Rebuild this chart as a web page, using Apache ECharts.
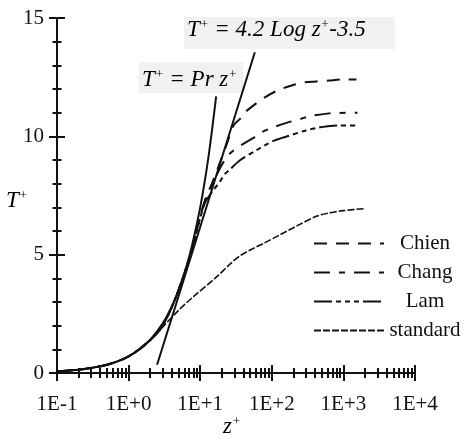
<!DOCTYPE html>
<html>
<head>
<meta charset="utf-8">
<script src="https://cdn.jsdelivr.net/npm/echarts@6/dist/echarts.min.js"></script>
<style>
  html, body { margin: 0; padding: 0; background: #fff; }
  #chart { width: 464px; height: 439px; }
</style>
</head>
<body>
<div id="chart"></div>
<script>
// Axis ticks and labels
const xTickValues = [0.1, 1, 10, 100, 1000, 10000];
const xTickLabels = ['1E-1', '1E+0', '1E+1', '1E+2', '1E+3', '1E+4'];
const yTickValues = [0, 5, 10, 15];
const yTickLabels = ['0', '5', '10', '15'];
const yMinorValues = [1, 2, 3, 4, 6, 7, 8, 9, 11, 12, 13, 14];
const xMinorMultipliers = [2, 3, 4, 5, 6, 7, 8, 9];

// Temperature profiles T+ against z+
const zChien = [0.1, 0.2, 0.5, 1, 2, 3, 4.7, 7.3, 10, 11.7, 15, 20, 24, 29, 36, 42, 58, 80, 121, 190, 288, 420, 630, 977, 1520];
const tChien = [0.07, 0.14, 0.35, 0.7, 1.39, 2.0, 3.3, 5.0, 6.6, 7.3, 8.1, 9.1, 9.75, 10.45, 10.74, 11.0, 11.35, 11.65, 11.94, 12.15, 12.28, 12.32, 12.36, 12.4, 12.4];

const zChang = [0.1, 0.2, 0.5, 1, 2, 3, 4.7, 7.3, 10, 11.7, 15, 18.5, 23.4, 27.5, 34, 45, 58, 73, 99, 160, 262, 350, 630, 880, 1570];
const tChang = [0.07, 0.14, 0.35, 0.7, 1.39, 2.0, 3.3, 5.0, 6.6, 7.3, 8.0, 8.6, 9.13, 9.34, 9.55, 9.78, 9.97, 10.18, 10.35, 10.57, 10.75, 10.86, 10.97, 10.99, 11.0];

const zLam = [0.1, 0.2, 0.5, 1, 2, 3, 4.7, 7.3, 10, 11.7, 15, 18.5, 22, 26, 36, 61, 88, 110, 160, 300, 470, 575, 880, 1650];
const tLam = [0.07, 0.14, 0.35, 0.7, 1.39, 2.0, 3.3, 5.0, 6.55, 7.2, 7.7, 8.05, 8.4, 8.6, 8.99, 9.41, 9.69, 9.83, 9.99, 10.25, 10.38, 10.42, 10.46, 10.46];

const zStandard = [0.1, 0.2, 0.5, 1, 2, 3, 5, 8, 17, 26, 36, 50, 76, 130, 219, 417, 630, 1000, 2040];
const tStandard = [0.07, 0.14, 0.35, 0.7, 1.37, 1.95, 2.65, 3.22, 4.06, 4.6, 4.95, 5.2, 5.47, 5.84, 6.2, 6.62, 6.76, 6.86, 6.95];

// Reference laws: T+ = Pr z+ (Pr = 0.7) and T+ = 4.2 ln z+ - 3.5
const zLinear = [0.1, 0.2, 0.3, 0.5, 0.7, 1, 1.5, 2, 3, 4, 5, 7, 10, 13, 16.7];
const tLinear = [0.07, 0.14, 0.21, 0.35, 0.49, 0.7, 1.05, 1.4, 2.1, 2.8, 3.5, 4.9, 7.0, 9.1, 11.69];
const zLogLaw = [2.5, 10, 58];
const tLogLaw = [0.35, 6.17, 13.55];

const pairs = (zs, ts) => zs.map((z, i) => [z, ts[i]]);

const xMinorValues = [];
[0.1, 1, 10, 100, 1000].forEach(d => xMinorMultipliers.forEach(m => xMinorValues.push(+(d * m).toPrecision(3))));

const SERIF = '"Liberation Serif", "DejaVu Serif", serif';
const INK = '#111';

const chart = echarts.init(document.getElementById('chart'), null, { renderer: 'canvas' });

const baseX = { type: 'log', logBase: 10, min: 0.1, max: 10000, gridIndex: 0, position: 'bottom' };
const baseY = { type: 'value', min: 0, max: 15, interval: 5, gridIndex: 0, position: 'left' };
const hidden = { axisLine: { show: false }, axisLabel: { show: false }, splitLine: { show: false } };
const tickLine = { color: INK, width: 2 };

// Ticks cross the axis line: one axis draws the outer half, another the inner half
const tickAxis = (base, values, len, inside) => Object.assign({}, base, hidden, {
  axisTick: { show: true, inside: inside, length: len, customValues: values, lineStyle: tickLine }
});

const richEq = {
  i: { fontFamily: SERIF, fontStyle: 'italic', fontSize: 23, color: INK },
  s: { fontFamily: SERIF, fontStyle: 'italic', fontSize: 13, color: INK, verticalAlign: 'top', padding: [0, 0, 8, 0] }
};

chart.setOption({
  animation: false,
  backgroundColor: '#fff',
  color: [INK, INK, INK, INK, INK, INK],
  grid: { left: 57, right: 49, top: 18, bottom: 66, containLabel: false },
  xAxis: [
    Object.assign({}, baseX, {
      axisLine: { show: true, lineStyle: { color: INK, width: 2 } },
      axisTick: { show: true, inside: false, length: 8, customValues: xTickValues, lineStyle: tickLine },
      axisLabel: {
        show: true, margin: 21, color: INK, fontFamily: SERIF, fontSize: 21,
        customValues: xTickValues,
        formatter: v => xTickLabels[xTickValues.findIndex(t => Math.abs(Math.log10(t) - Math.log10(v)) < 1e-6)]
      },
      splitLine: { show: false }
    }),
    tickAxis(baseX, xTickValues, 8, true),
    tickAxis(baseX, xMinorValues, 5, false),
    tickAxis(baseX, xMinorValues, 5, true)
  ],
  yAxis: [
    Object.assign({}, baseY, {
      axisLine: { show: true, lineStyle: { color: INK, width: 2 } },
      axisTick: { show: true, inside: false, length: 8, customValues: yTickValues, lineStyle: tickLine },
      axisLabel: {
        show: true, margin: 13, color: INK, fontFamily: SERIF, fontSize: 21,
        customValues: yTickValues,
        formatter: v => yTickLabels[yTickValues.indexOf(v)]
      },
      splitLine: { show: false }
    }),
    tickAxis(baseY, yTickValues, 8, true),
    tickAxis(baseY, yMinorValues, 4.5, false),
    tickAxis(baseY, yMinorValues, 4.5, true)
  ],
  legend: {
    orient: 'vertical',
    left: 308,
    top: 228,
    itemWidth: 70,
    itemHeight: 14,
    itemGap: 8,
    data: ['Chien', 'Chang', 'Lam', 'standard'],
    itemStyle: { opacity: 0 },
    formatter: '{a|{name}}',
    textStyle: {
      color: INK,
      rich: { a: { width: 72, align: 'center', fontFamily: SERIF, fontSize: 21, color: INK } }
    }
  },
  graphic: [
    { type: 'rect', shape: { x: 184, y: 17, width: 211, height: 32 }, style: { fill: '#f1f1f1' }, z: 1 },
    { type: 'rect', shape: { x: 139, y: 62, width: 104, height: 31 }, style: { fill: '#f1f1f1' }, z: 1 },
    {
      type: 'text', left: 187, top: 18, z: 10,
      style: { text: '{i|T}{s|+}{i| = 4.2 Log z}{s|+}{i|-3.5}', rich: richEq }
    },
    {
      type: 'text', left: 142, top: 68, z: 10,
      style: { text: '{i|T}{s|+}{i| = Pr z}{s|+}', rich: richEq }
    },
    {
      type: 'text', left: 6, top: 189, z: 10,
      style: { text: '{i|T}{s|+}', rich: richEq }
    },
    {
      type: 'text', left: 223, top: 415, z: 10,
      style: { text: '{i|z}{s|+}', rich: richEq }
    }
  ],
  series: [
    {
      name: 'Chien', type: 'line', data: pairs(zChien, tChien), smooth: 0.3, showSymbol: false, symbol: 'none',
      itemStyle: { color: INK }, lineStyle: { color: INK, width: 2, type: [13, 9] }
    },
    {
      name: 'Chang', type: 'line', data: pairs(zChang, tChang), smooth: 0.3, showSymbol: false, symbol: 'none',
      itemStyle: { color: INK }, lineStyle: { color: INK, width: 2, type: [16, 9, 6, 9] }
    },
    {
      name: 'Lam', type: 'line', data: pairs(zLam, tLam), smooth: 0.3, showSymbol: false, symbol: 'none',
      itemStyle: { color: INK }, lineStyle: { color: INK, width: 2, type: [18, 4, 5, 4, 5, 4, 5, 4] }
    },
    {
      name: 'standard', type: 'line', data: pairs(zStandard, tStandard), smooth: 0.3, showSymbol: false, symbol: 'none',
      itemStyle: { color: INK }, lineStyle: { color: INK, width: 1.6, type: [7, 2] }
    },
    {
      name: 'linear law', type: 'line', data: pairs(zLinear, tLinear), smooth: 0.3, showSymbol: false, symbol: 'none',
      itemStyle: { color: INK }, lineStyle: { color: INK, width: 2 }
    },
    {
      name: 'log law', type: 'line', data: pairs(zLogLaw, tLogLaw), showSymbol: false, symbol: 'none',
      itemStyle: { color: INK }, lineStyle: { color: INK, width: 2 }
    }
  ]
});
</script>
</body>
</html>
